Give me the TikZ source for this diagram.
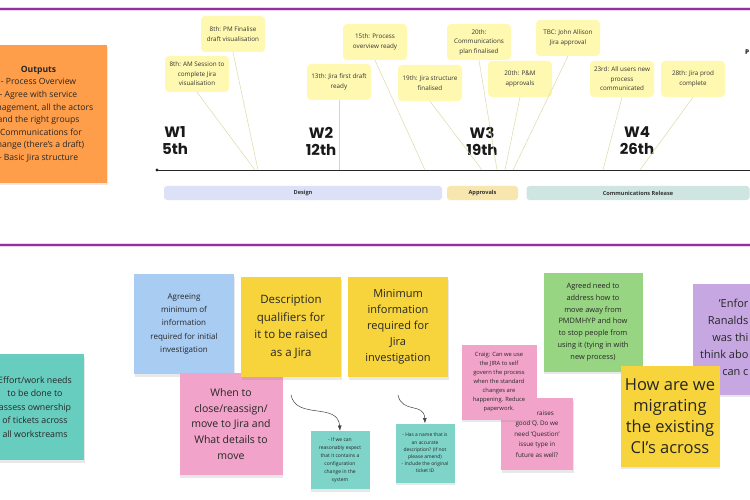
\documentclass[tikz,border=0pt]{standalone}
\usepackage{fontspec}
\setmainfont{Open Sans}
\newfontfamily\weekfont{Poppins}
\usepackage{xcolor}
\usetikzlibrary{arrows.meta,shadows}
\definecolor{boardPurple}{HTML}{962EA3}
\definecolor{calloutYellow}{HTML}{FFF8B0}
\definecolor{leaderLine}{HTML}{DEDAA6}
\definecolor{stickyOrange}{HTML}{FF9E4A}
\definecolor{stickyTeal}{HTML}{67CDBF}
\definecolor{stickyBlue}{HTML}{A9CCF2}
\definecolor{stickyPink}{HTML}{F2A3C9}
\definecolor{stickyGold}{HTML}{F8D43C}
\definecolor{stickyGreen}{HTML}{98D583}
\definecolor{stickyLilac}{HTML}{C6A7E2}
\definecolor{designBlue}{HTML}{DCE1F8}
\definecolor{approveSand}{HTML}{F7E6AE}
\definecolor{commsTeal}{HTML}{CFE5E0}

\begin{document}
\begin{tikzpicture}[x=1pt,y=-1pt,>=Latex,
    sticky/.style={rectangle,align=center,inner sep=2pt,text=black!85,
      drop shadow={opacity=0.18,shadow xshift=0.5pt,shadow yshift=-2.5pt}},
    callout/.style={rectangle,rounded corners=4pt,fill=calloutYellow,align=center,
      minimum width=64pt,minimum height=36pt,inner sep=1pt,text=black!80,
      font=\fontsize{6.3}{9.4}\selectfont},
    leader/.style={leaderLine,line width=0.5pt},
    phase/.style={rounded corners=3pt,minimum height=14pt,text=black!80,
      font=\fontsize{5.6}{6}\selectfont\bfseries}]
    \useasboundingbox (0,0) rectangle (750,500);
    \clip (0,0) rectangle (750,500);
    \fill[white] (0,0) rectangle (750,500);

    % section rules
    \foreach \y in {9,245} {
      \draw[boardPurple!20,line width=4pt] (0,\y)--(750,\y);
      \draw[boardPurple,line width=1.8pt] (0,\y)--(750,\y);
    }

    \node[sticky,fill=stickyOrange,minimum width=137pt,minimum height=138pt,
      font=\fontsize{8.6}{12.6}\selectfont] (outputs) at (38.5,114)
      {\textbf{Outputs}\\- Process Overview\\- Agree with service\\management, all the actors\\and the right groups\\- Communications for\\change (there's a draft)\\- Basic Jira structure};

    % timeline
    \coordinate (tStart) at (157,170);
    \coordinate (tEnd) at (750,170);
    \draw[line width=0.9pt,black!85] (tStart)--(tEnd);
    \fill[black!85] (tStart) circle (1.6pt);

    \foreach \w/\x/\d in {W1/175/5th,W2/321/12th,W3/482/19th,W4/637/26th}
      \node[align=center,text=black!90,
        font=\weekfont\bfseries\fontsize{15}{17}\selectfont] (\w) at (\x,141) {\w\\\d};

    \node[phase,fill=designBlue,minimum width=278pt] (design) at (303,193) {Design};
    \node[phase,fill=approveSand,minimum width=71pt] (approvals) at (482.5,193) {Approvals};
    \node[phase,fill=commsTeal,minimum width=223pt] (comms) at (638,193) {Communications Release};

    \foreach \i/\tx in {1/255,2/258,3/339,4/425,5/482,6/497,7/505,8/513,9/603,10/640}
      \coordinate (t\i) at (\tx,170);

    % milestone callouts
    \foreach \i/\x/\y/\t in {
        1/197/74/{8th: AM Session to\\complete Jira\\visualisation},
        2/233/34/{8th: PM Finalise\\draft visualisation},
        3/339/82/{13th: Jira first draft\\ready},
        4/375/42/{15th: Process\\overview ready},
        5/430/83/{19th: Jira structure\\finalised},
        6/479/42/{20th:\\Communications\\plan finalised},
        7/520/79/{20th: P\&M\\approvals},
        8/568/38/{TBC: John Allison\\Jira approval},
        9/622/79/{23rd: All users new\\process\\communicated},
        10/693/79/{28th: Jira prod\\complete}}
      \node[callout] (c\i) at (\x,\y) {\t};
    \foreach \i in {1,...,10}
      \draw[leader] (c\i.south)--(t\i);

    \node[anchor=west,inner sep=0pt,font=\fontsize{6.5}{7}\selectfont\bfseries] (pLabel) at (745,52) {P};

    % workshop notes
    \node[sticky,fill=stickyTeal,minimum width=98pt,minimum height=106pt,
      font=\fontsize{8.8}{13.6}\selectfont] (effort) at (35,407)
      {Effort/work needs\\to be done to\\assess ownership\\of tickets across\\all workstreams};
    \node[sticky,fill=stickyBlue,minimum width=100pt,minimum height=100pt,
      font=\fontsize{8}{13.3}\selectfont] (agreeing) at (184,324)
      {Agreeing\\minimum of\\information\\required for initial\\investigation};
    \node[sticky,fill=stickyPink,minimum width=103pt,minimum height=102pt,
      font=\fontsize{10.5}{15.6}\selectfont] (whenTo) at (231,424)
      {When to\\close/reassign/\\move to Jira and\\What details to\\move};
    \node[sticky,fill=stickyGold,minimum width=100pt,minimum height=100pt,
      font=\fontsize{11.5}{17.6}\selectfont] (qualifiers) at (291,327)
      {Description\\qualifiers for\\it to be raised\\as a Jira};
    \node[sticky,fill=stickyGold,minimum width=100pt,minimum height=100pt,
      font=\fontsize{11}{16}\selectfont] (minInfo) at (398,327)
      {Minimum\\information\\required for\\Jira\\investigation};
    \node[sticky,fill=stickyTeal!85!white,minimum width=59pt,minimum height=58pt,
      font=\fontsize{5}{8}\selectfont] (tealA) at (340,460)
      {- If we can\\reasonably expect\\that it contains a\\configuration\\change in the\\system};
    \node[sticky,fill=stickyTeal!85!white,minimum width=59pt,minimum height=59pt,
      font=\fontsize{4.9}{7.2}\selectfont] (tealB) at (425,453)
      {- Has a name that is\\an accurate\\description? (If not\\please amend)\\- Include the original\\ticket ID};
    \coordinate (curlA) at (291,395);
    \coordinate (curlB) at (398,395);
    \draw[->,black!75,line width=0.5pt] (curlA) .. controls (296,420) and (338,402) .. (tealA.north);
    \draw[->,black!75,line width=0.5pt] (curlB) .. controls (402,414) and (424,402) .. (tealB.north);

    \node[sticky,fill=stickyPink,minimum width=72pt,minimum height=72pt,
      font=\fontsize{6.3}{10.6}\selectfont] (raises) at (537,434)
      {Craig raises\\good Q. Do we\\need `Question'\\issue type in\\future as well?};
    \node[sticky,fill=stickyPink,minimum width=75pt,minimum height=75pt,
      font=\fontsize{5.8}{8.9}\selectfont] (craig) at (499,382)
      {Craig: Can we use\\the JIRA to self\\govern the process\\when the standard\\changes are\\happening. Reduce\\paperwork.};
    \node[sticky,fill=stickyGreen,minimum width=99pt,minimum height=99pt,
      font=\fontsize{7.4}{11.7}\selectfont] (pmdmhyp) at (593,322)
      {Agreed need to\\address how to\\move away from\\PMDMHYP and how\\to stop people from\\using it (tying in with\\new process)};
    \node[sticky,fill=stickyLilac,minimum width=104pt,minimum height=111pt] (enforce) at (745,339) {};
    \node[anchor=east,align=right,text=black!85,font=\fontsize{11}{17}\selectfont] (enforceText) at (752,337)
      {'Enfor\\Ranalds\\was thi\\think abo\\e can c};
    \node[sticky,fill=stickyGold,minimum width=99pt,minimum height=101pt,
      font=\fontsize{16.5}{21}\selectfont] (migrating) at (670,416)
      {How are we\\migrating\\the existing\\CI's across};
  \end{tikzpicture}
\end{document}
